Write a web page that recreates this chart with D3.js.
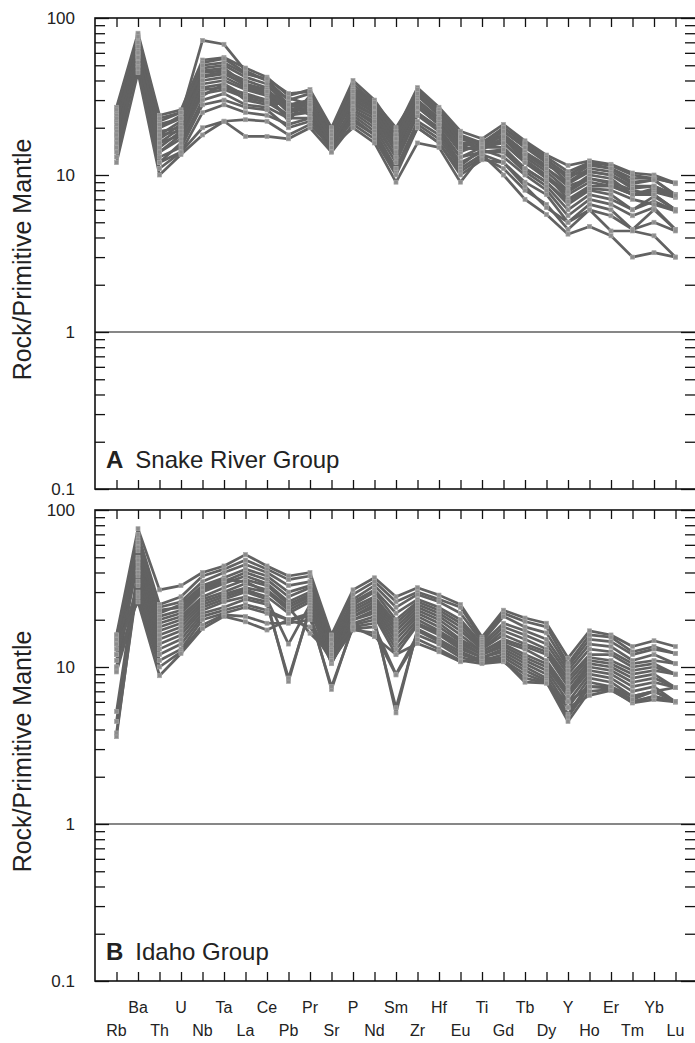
<!DOCTYPE html>
<html>
<head>
<meta charset="utf-8">
<script src="https://cdn.jsdelivr.net/npm/d3@7"></script>
<style>
    body { margin: 0; background: #fff; }
    svg { display: block; font-family: "Liberation Sans", Arial, sans-serif; }
</style>
</head>
<body>
<svg id="chart"></svg>
<script>
// element order along the x axis
const elements = ["Rb", "Ba", "Th", "U", "Nb", "Ta", "La", "Ce", "Pb", "Pr", "Sr", "P", "Nd", "Sm",
    "Zr", "Hf", "Eu", "Ti", "Gd", "Tb", "Dy", "Y", "Ho", "Er", "Tm", "Yb", "Lu"];

// rock / primitive mantle, one row per sample
const snakeRiverSamples = [
    [22, 78, 20, 24, 72, 68, 46, 40, 30, 33, 19, 36, 29, 20, 33, 25, 17, 16, 18, 14, 11, 8.5, 9.5, 8.8, 7.5, 7.8, 7.2],
    [27, 80, 24, 26, 54, 56, 48, 42, 32, 35, 20, 40, 30, 19, 36, 27, 19, 17, 21, 16.5, 13.4, 11.5, 12.3, 11.7, 10.3, 10, 8.9],
    [25, 72, 22, 25, 52, 55, 45, 40, 28, 30, 18, 35, 28, 17, 34, 26, 18, 16, 20, 15.5, 12.5, 10, 11.8, 11, 9.5, 9.6, 8.8],
    [20, 70, 18, 22, 48, 50, 42, 38, 27, 30, 17, 33, 27, 18, 32, 24, 17, 15.5, 19, 15, 12, 9, 11, 10.5, 8.8, 9.3, 7.4],
    [18, 65, 17, 21, 45, 46, 40, 36, 31, 28, 17, 30, 25, 16, 30, 23, 16, 15, 18, 14, 11.5, 10, 10.5, 10, 8.5, 8.5, 7.4],
    [22, 68, 16, 20, 42, 44, 38, 34, 25, 27, 18, 28, 24, 15, 28, 22, 15, 14.5, 17, 13, 10.5, 8, 10, 9.5, 7.5, 8, 7.3],
    [15, 60, 15, 19, 38, 40, 35, 32, 26, 26, 16, 27, 23, 14, 27, 21, 14, 16, 16, 12, 9.5, 7.5, 9, 8.5, 7.5, 7.5, 6],
    [24, 75, 20, 23, 40, 42, 36, 33, 22, 32, 19, 32, 26, 17, 30, 22, 16, 15, 17, 12.5, 10, 7, 8.5, 8.5, 7.5, 8.2, 7.5],
    [13, 55, 14, 18, 35, 36, 33, 30, 24, 25, 16, 26, 21, 13, 25, 20, 13, 15, 15, 11, 9, 6.5, 8, 7.5, 6, 7.3, 6],
    [20, 62, 19, 20, 32, 38, 30, 28, 29, 24, 15, 25, 20, 12, 24, 19, 12, 14, 14, 10.5, 8.5, 6, 7.5, 7, 6, 6.8, 5.9],
    [17, 58, 12, 16, 30, 33, 28, 27, 23, 23, 15, 24, 19, 11, 22, 18, 11.5, 14.5, 13, 10, 8, 5.5, 7, 6.5, 5.5, 6.2, 4.5],
    [16, 50, 13, 15, 28, 30, 27, 26, 20, 22, 16, 22, 18, 10.5, 21, 17, 11, 13.5, 12, 9, 7.5, 5, 6.5, 6, 4.5, 6, 4.5],
    [19, 48, 11, 14, 20, 22, 17.6, 17.6, 17, 20, 14, 21, 17, 10, 20, 16, 10.5, 13, 11, 8, 6.5, 4.5, 6, 5.5, 4.5, 5, 4.4],
    [12, 45, 10, 13.5, 18, 22, 22.5, 22, 18, 21, 15, 20, 16, 9, 16, 15, 9, 13.5, 10, 7, 5.6, 4.2, 4.7, 4.1, 3.0, 3.2, 3.0],
    [14, 52, 12, 14, 25, 28, 25, 24, 21, 23, 14, 23, 18, 11, 20, 16, 10, 12.5, 12, 8.5, 6.2, 5, 6, 4.4, 4.4, 4.1, 3.0],
    [23, 70, 21, 23, 50, 52, 44, 41, 33, 34, 19, 38, 29, 18, 35, 26, 17.5, 15.5, 20, 16, 13, 10.5, 12, 11.5, 10, 9.5, 8.9],
    [26, 76, 23, 25, 46, 48, 38, 35, 27, 29, 18, 34, 27, 17, 33, 25, 16, 16, 19, 15, 12.5, 9.5, 11.5, 11, 9, 9.3, 7.5],
    [21, 66, 18, 19, 36, 38, 32, 30, 28, 27, 17, 29, 24, 15, 27, 21, 14.5, 15, 16, 12, 9.8, 7.8, 9.5, 9, 8, 7.5, 6],
    [18, 60, 14, 17, 33, 35, 31, 29, 24, 26, 16, 26, 22, 13, 25, 19, 13, 14, 14.5, 11, 9, 6.8, 8.2, 8, 7, 6.5, 5.9],
    [15, 56, 16, 18, 43, 45, 37, 34, 26, 28, 17, 31, 25, 16, 29, 23, 15, 16.5, 17.5, 13.5, 11, 8.8, 10.5, 10, 8.2, 8.5, 7.4]
];

const idahoSamples = [
    [16, 76, 31, 33, 40, 44, 52, 44, 38, 40, 16, 31, 37, 28, 32, 28.7, 25, 15.5, 23, 20.5, 19, 11.4, 17, 16, 13.5, 14.7, 13.5],
    [15, 70, 25, 28, 38, 42, 48, 42, 36, 38, 15, 29, 35, 26, 30, 27, 24, 15, 22, 19.5, 18, 10.5, 16, 15.5, 12.5, 13.5, 12.2],
    [14, 65, 24, 26, 35, 40, 45, 40, 33, 35, 14, 27, 33, 24, 29, 26, 22, 14.5, 21, 18, 16.5, 10, 15, 14.5, 12, 13, 12.2],
    [13, 60, 22, 25, 33, 37, 42, 38, 30, 33, 14, 26, 31, 22, 27, 24, 20, 14, 19, 17, 15, 9.5, 14, 13.5, 11, 12, 10.5],
    [12, 58, 21, 23, 31, 35, 40, 36, 28, 32, 13, 25, 30, 20, 26, 23, 19, 13.5, 18, 16, 14, 9, 13, 12.5, 10.5, 11, 10.5],
    [11, 55, 20, 22, 30, 34, 38, 34, 26, 30, 13, 24, 28, 19, 25, 22, 18, 13, 17, 15, 13, 8.5, 12, 12, 10, 10.5, 9],
    [10, 50, 19, 21, 28, 32, 36, 33, 25, 29, 12.5, 23, 27, 18, 24, 21, 17, 13, 16, 14, 12.5, 8, 11.5, 11, 9.5, 10, 9],
    [9.5, 48, 18, 20, 27, 30, 34, 31, 24, 28, 12, 22, 26, 17, 23, 20, 16, 12.5, 15, 13.5, 12, 7.5, 11, 10.5, 9, 9.5, 9],
    [16, 45, 17, 19, 26, 29, 32, 30, 23, 27, 12, 21, 25, 16, 22, 19, 15, 12.5, 14.5, 13, 11, 7, 10.5, 10, 8.5, 9, 7.4],
    [5.2, 42, 16, 18, 25, 28, 31, 28, 22, 26, 11.5, 21, 24, 15, 21, 18, 14.5, 12, 14, 12, 10.5, 6.8, 10, 9.5, 8, 8.5, 7.4],
    [4.5, 40, 15, 17, 24, 27, 30, 27, 14, 25, 11, 20, 23, 14, 20, 17, 14, 12, 13.5, 11.5, 10, 6.5, 9.5, 9, 7.5, 8, 7.4],
    [3.6, 38, 14, 16, 23, 26, 28, 26, 8.1, 24, 10.5, 20, 22, 13, 19, 16.5, 13.5, 11.5, 13, 11, 9.5, 6, 9, 8.5, 7, 7.5, 6],
    [3.8, 35, 13, 15, 22, 24, 27, 25, 8.5, 23, 10.6, 19, 21, 12, 18.5, 16, 13, 11.5, 12.5, 10.5, 9, 5.5, 8.5, 8, 6.5, 7, 6],
    [12, 33, 12, 14, 21, 23, 25, 23, 20, 22, 7.2, 18.5, 20, 5.1, 17.5, 15, 12.5, 11, 12, 10, 8.5, 5, 8, 7.5, 6.5, 7, 6],
    [10, 30, 11, 13, 20, 22, 24, 22, 20, 21, 7.5, 18, 19, 5.5, 17, 14.5, 12, 11, 11.5, 9.5, 8.2, 4.8, 7.5, 7.3, 6, 6.5, 6],
    [9.3, 28, 10, 12.5, 18.5, 21.5, 21, 19, 19, 20, 10.8, 17.5, 18, 9, 16, 14, 11.5, 10.8, 11, 9, 8, 4.5, 7, 7.2, 5.9, 6.2, 6],
    [14, 26, 8.8, 12.2, 17.6, 21, 19.4, 17.2, 20, 18, 11, 17.2, 16.5, 8.9, 15, 13, 11, 10.5, 10.8, 8.5, 7.9, 5.5, 6.6, 7.1, 6, 6.5, 6],
    [15, 62, 23, 24, 32, 36, 35, 30, 24, 16.4, 12, 18, 15.6, 12, 14.1, 12.5, 10.8, 11.5, 11, 8, 7.9, 6, 7.5, 7.5, 6.2, 7, 7.4]
];

const decadeLabels = [0.1, 1, 10, 100];
const yTitle = "Rock/Primitive Mantle";

const width = 695, height = 1043;
const frameLeft = 95, frameRight = 695;

const panels = [
    {top: 18, bottom: 489, samples: snakeRiverSamples, letter: "A", name: "Snake River Group"},
    {top: 510, bottom: 981, samples: idahoSamples, letter: "B", name: "Idaho Group"}
];

const svg = d3.select("#chart")
    .attr("width", width)
    .attr("height", height);

const x = d3.scalePoint()
    .domain(elements)
    .range([frameLeft, 697])
    .padding(1);

// every log tick between 0.1 and 100
let logTicks = [];
[0.1, 1, 10].forEach(d => {
    for (let k = 1; k < 10; k++) logTicks.push(+(d * k).toPrecision(3));
});
logTicks.push(100);

panels.forEach(p => drawPanel(p));

// x labels, staggered on two rows
svg.append("g")
    .selectAll("text")
    .data(elements)
    .enter()
    .append("text")
    .attr("x", d => x(d))
    .attr("y", (d, i) => i % 2 === 0 ? 1036 : 1013)
    .attr("text-anchor", "middle")
    .style("font-size", "16px")
    .style("fill", "#222")
    .text(d => d);

function drawPanel(p) {
    const y = d3.scaleLog()
        .domain([0.1, 100])
        .range([p.bottom, p.top]);

    const g = svg.append("g");

    // horizontal line at 1
    g.append("line")
        .attr("x1", frameLeft).attr("x2", frameRight)
        .attr("y1", y(1)).attr("y2", y(1))
        .style("stroke", "#111")
        .style("stroke-width", 1.2);

    // sample lines
    const line = d3.line()
        .x((d, i) => x(elements[i]))
        .y(d => y(d));

    g.append("g")
        .selectAll("path")
        .data(p.samples)
        .enter()
        .append("path")
        .attr("d", line)
        .style("fill", "none")
        .style("stroke", "#626262")
        .style("stroke-width", 2.7)
        .style("stroke-linejoin", "round");

    // square markers
    const pts = [];
    p.samples.forEach(s => s.forEach((v, i) => pts.push({el: elements[i], v: v})));
    g.append("g")
        .selectAll("rect")
        .data(pts)
        .enter()
        .append("rect")
        .attr("x", d => x(d.el) - 2)
        .attr("y", d => y(d.v) - 2)
        .attr("width", 4)
        .attr("height", 4)
        .style("fill", "#8c8c8c")
        .style("stroke", "#a5a5a5")
        .style("stroke-width", 0.7);

    // inward ticks, top and bottom
    const tickStyle = sel => {
        sel.select(".domain").remove();
        sel.selectAll("line").style("stroke", "#111").style("stroke-width", 1.3);
    };
    g.append("g")
        .attr("transform", `translate(0,${p.top})`)
        .call(d3.axisTop(x).tickSize(-9).tickFormat(""))
        .call(tickStyle);
    g.append("g")
        .attr("transform", `translate(0,${p.bottom})`)
        .call(d3.axisBottom(x).tickSize(-9).tickFormat(""))
        .call(tickStyle);

    // inward ticks, left and right
    const isMajor = d => decadeLabels.includes(d);
    g.append("g")
        .attr("transform", `translate(${frameLeft},0)`)
        .call(d3.axisLeft(y).tickValues(logTicks).tickSize(-10).tickFormat(""))
        .call(tickStyle)
        .selectAll(".tick line")
        .attr("x2", d => isMajor(d) ? 14 : 10);
    g.append("g")
        .attr("transform", `translate(${frameRight},0)`)
        .call(d3.axisRight(y).tickValues(logTicks).tickSize(-10).tickFormat(""))
        .call(tickStyle)
        .selectAll(".tick line")
        .attr("x2", d => isMajor(d) ? -14 : -10);

    // frame
    g.append("rect")
        .attr("x", frameLeft)
        .attr("y", p.top)
        .attr("width", frameRight - frameLeft + 2)
        .attr("height", p.bottom - p.top)
        .style("fill", "none")
        .style("stroke", "#111")
        .style("stroke-width", 1.6);

    // decade labels
    g.append("g")
        .selectAll("text")
        .data(decadeLabels)
        .enter()
        .append("text")
        .attr("x", 75)
        .attr("y", d => y(d) + 6)
        .attr("text-anchor", "end")
        .style("font-size", "17px")
        .style("fill", "#222")
        .text(d => d);

    // axis title
    const cy = (p.top + p.bottom) / 2 + 6;
    g.append("text")
        .attr("transform", `translate(31,${cy}) rotate(-90)`)
        .attr("text-anchor", "middle")
        .style("font-size", "25px")
        .style("fill", "#222")
        .text(yTitle);

    // panel label
    const lab = g.append("text")
        .attr("x", 106)
        .attr("y", p.bottom - 21)
        .style("font-size", "24px")
        .style("fill", "#222");
    lab.append("tspan").style("font-weight", "bold").text(p.letter);
    lab.append("tspan").attr("dx", 12).text(p.name);
}
</script>
</body>
</html>
